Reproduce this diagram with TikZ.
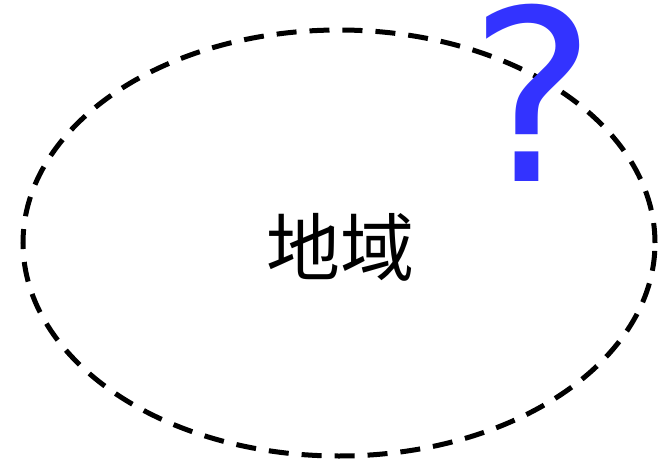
\documentclass[tikz,border=0pt]{standalone}
\usepackage{fontspec}
\setmainfont{DejaVu Sans}
\newfontfamily\cjk{Noto Sans CJK SC}
\usetikzlibrary{shapes.geometric, positioning}

\tikzset{
  region/.style={draw=black, line width=5pt, dash pattern=on 20pt off 13pt, ellipse, minimum width=632pt, minimum height=426pt, inner sep=0pt},
  regionlabel/.style={font=\cjk\fontsize{74}{74}\selectfont, inner sep=0pt},
  unknown/.style={text={rgb,255:red,51;green,51;blue,255}, font=\fontsize{239}{239}\selectfont, inner sep=0pt, text height=176pt, text depth=0pt, anchor=base}
}

\begin{document}
\begin{tikzpicture}[x=1pt, y=1pt]
\useasboundingbox (0,0) rectangle (658,464);

% the region
\node[region] (area) at (339,221) {};
\node[regionlabel] (name) at (340,217) {地域};

% question mark
\node[unknown] (qmark) at (533,282) {?};
\end{tikzpicture}
\end{document}
